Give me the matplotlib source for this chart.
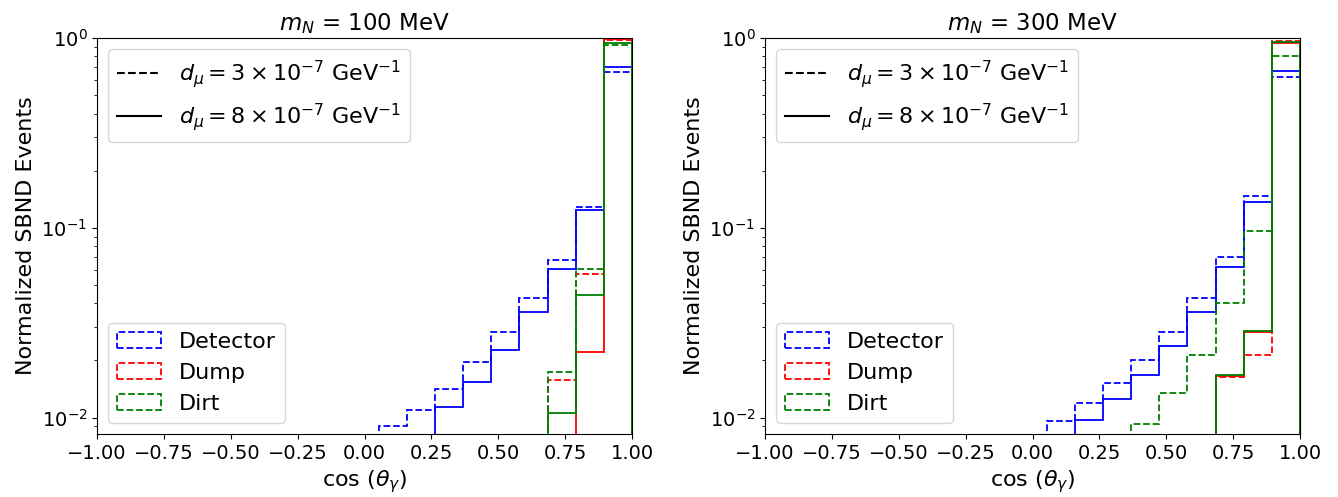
import matplotlib
matplotlib.use('Agg')
import matplotlib.pyplot as plt
from matplotlib.lines import Line2D
from matplotlib.patches import Patch
import numpy as np

# 19 equal bins in cos(theta_gamma) on [-1, 1]
edges = np.linspace(-1.0, 1.0, 20)
empty = [0.0] * 10

# m_N = 100 MeV, last 9 bins (the first 10 are empty)
det_3_100 = empty + [0.00908, 0.01097, 0.01422, 0.0197, 0.0284, 0.0427, 0.0676, 0.1295, 0.660]
det_8_100 = empty + [0.0, 0.0, 0.01133, 0.0154, 0.0227, 0.0358, 0.0606, 0.1244, 0.706]
dump_3_100 = empty + [0.0, 0.0, 0.0, 0.0, 0.0, 0.0, 0.0158, 0.0573, 0.976]
dump_8_100 = empty + [0.0, 0.0, 0.0, 0.0, 0.0, 0.0, 0.0, 0.0223, 0.984]
dirt_3_100 = empty + [0.0, 0.0, 0.0, 0.0, 0.0, 0.0, 0.0174, 0.0608, 0.919]
dirt_8_100 = empty + [0.0, 0.0, 0.0, 0.0, 0.0, 0.0, 0.01054, 0.0442, 0.938]

# m_N = 300 MeV
det_3_300 = empty + [0.00964, 0.01195, 0.0152, 0.0202, 0.0281, 0.0425, 0.0706, 0.147, 0.623]
det_8_300 = empty + [0.0, 0.00976, 0.0126, 0.0167, 0.0238, 0.0361, 0.0623, 0.136, 0.673]
dump_3_300 = empty + [0.0, 0.0, 0.0, 0.0, 0.0, 0.0, 0.0163, 0.0215, 0.964]
dump_8_300 = empty + [0.0, 0.0, 0.0, 0.0, 0.0, 0.0, 0.0165, 0.0282, 0.947]
dirt_3_300 = empty + [0.0, 0.0, 0.0, 0.0093, 0.0135, 0.0215, 0.0401, 0.0964, 0.804]
dirt_8_300 = empty + [0.0, 0.0, 0.0, 0.0, 0.0, 0.0, 0.0167, 0.0287, 0.949]

masses = ['100', '300']
panels = [
	[(det_3_100, det_8_100), (dump_3_100, dump_8_100), (dirt_3_100, dirt_8_100)],
	[(det_3_300, det_8_300), (dump_3_300, dump_8_300), (dirt_3_300, dirt_8_300)],
]
sources = ['Detector', 'Dump', 'Dirt']
colors = ['blue', 'red', 'green']
couplings = ['3', '8']

plt.rcParams['font.size'] = 14

fig, axes = plt.subplots(1, 2, figsize=(13.38, 4.97), dpi=100)
fig.subplots_adjust(left=0.0725, right=0.9716, top=0.9235, bottom=0.1268, wspace=0.2486)

for ax, mass, data in zip(axes, masses, panels):
	for (v3, v8), color in zip(data, colors):
		ax.hist(edges[:-1], bins=edges, weights=v3, histtype='step', color=color, linestyle='--', linewidth=1.3)
		ax.hist(edges[:-1], bins=edges, weights=v8, histtype='step', color=color, linestyle='-', linewidth=1.3)
	ax.set_yscale('log')
	ax.set_xlim(-1, 1)
	ax.set_ylim(8.2e-3, 1)
	ax.set_xticks(np.arange(-1.0, 1.01, 0.25))
	ax.set_xlabel(r'cos $(\theta_\gamma)$', fontsize=16)
	ax.set_ylabel('Normalized SBND Events', fontsize=16)
	ax.set_title(r'$m_N$ = ' + mass + ' MeV', fontsize=16.5)

	line_handles = [
		Line2D([], [], color='black', linestyle='--', linewidth=1.5),
		Line2D([], [], color='black', linestyle='-', linewidth=1.5),
	]
	line_labels = [r'$d_\mu = ' + c + r'\times 10^{-7}$ GeV$^{-1}$' for c in couplings]
	leg1 = ax.legend(line_handles, line_labels, loc='upper left', fontsize=16)
	ax.add_artist(leg1)

	src_handles = [Patch(facecolor='none', edgecolor=c, linestyle='--', linewidth=1.3) for c in colors]
	ax.legend(src_handles, sources, loc='lower left', fontsize=16)

fig.savefig('out.png')
